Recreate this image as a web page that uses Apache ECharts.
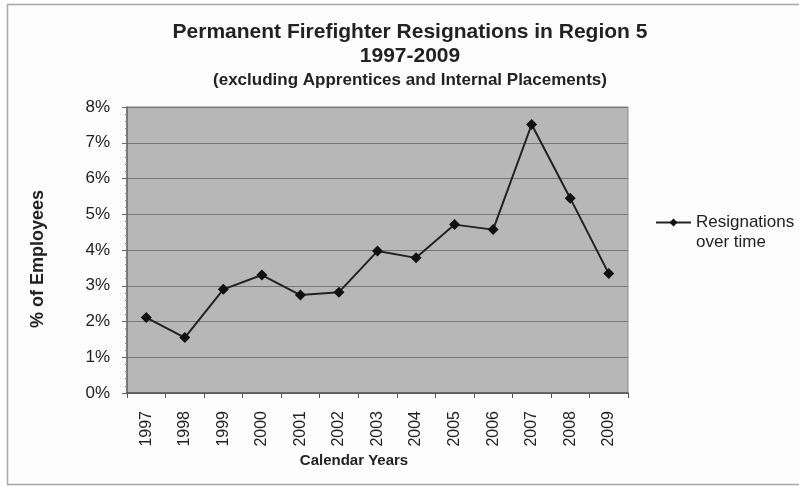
<!DOCTYPE html>
<html>
<head>
<meta charset="utf-8">
<script src="https://cdn.jsdelivr.net/npm/echarts@6/dist/echarts.min.js"></script>
<style>
  html, body { margin: 0; padding: 0; background: #fdfdfd; }
  #chart { width: 799px; height: 487px; }
</style>
</head>
<body>
<div id="chart"></div>
<script>
var years = ['1997', '1998', '1999', '2000', '2001', '2002', '2003', '2004', '2005', '2006', '2007', '2008', '2009'];
var resignations = [2.11, 1.55, 2.90, 3.30, 2.74, 2.82, 3.97, 3.78, 4.71, 4.57, 7.51, 5.45, 3.34];
var yTicks = [0, 1, 2, 3, 4, 5, 6, 7, 8];

var myChart = echarts.init(document.getElementById('chart'));
var font = 'Liberation Sans, Arial, sans-serif';

var option = {
    backgroundColor: '#fdfdfd',
    textStyle: { fontFamily: font },
    title: {
        text: 'Permanent Firefighter Resignations in Region 5\n1997-2009',
        subtext: '(excluding Apprentices and Internal Placements)',
        left: 410,
        textAlign: 'center',
        top: 20,
        padding: 0,
        itemGap: 3,
        textStyle: { fontSize: 21, fontWeight: 'bold', color: '#222', lineHeight: 24, fontFamily: font },
        subtextStyle: { fontSize: 17, fontWeight: 'bold', color: '#222', lineHeight: 18, fontFamily: font }
    },
    legend: {
        left: 650,
        top: 189,
        itemWidth: 35,
        itemHeight: 10,
        data: ['Resignations\nover time'],
        // empty first line pushes the text so its first line sits on the icon
        formatter: function (name) {
            return '{gap| }\n' + name.split('\n').map(function (s) { return '{t|' + s + '}'; }).join('\n');
        },
        textStyle: {
            fontSize: 17, color: '#222', fontFamily: font,
            rich: {
                gap: { fontSize: 17, lineHeight: 20 },
                t: { fontSize: 17, lineHeight: 20, color: '#222', fontFamily: font }
            }
        }
    },
    grid: {
        left: 127,
        top: 107,
        width: 501,
        height: 286,
        show: true,
        backgroundColor: '#b7b7b7',
        borderColor: '#8a8a8a',
        borderWidth: 1
    },
    xAxis: {
        type: 'category',
        data: years,
        boundaryGap: true,
        axisLine: { lineStyle: { color: '#555', width: 1.5 } },
        axisTick: { show: true, length: 5, lineStyle: { color: '#555' } },
        axisLabel: { rotate: 90, fontSize: 16, color: '#222', margin: 18, fontFamily: font }
    },
    yAxis: {
        type: 'value',
        min: yTicks[0],
        max: yTicks[yTicks.length - 1],
        interval: 1,
        axisLine: { show: true, lineStyle: { color: '#666', width: 1.5 } },
        axisTick: { show: true, length: 5, lineStyle: { color: '#666' } },
        minorTick: { show: true, splitNumber: 5, length: 2, lineStyle: { color: '#888' } },
        axisLabel: { formatter: '{value}%', fontSize: 17, color: '#222', margin: 17, fontFamily: font },
        splitLine: { show: true, lineStyle: { color: '#767676', width: 1.2 } }
    },
    graphic: [
        {
            type: 'rect',
            shape: { x: 7.5, y: 4.5, width: 800, height: 480 },
            style: { fill: 'none', stroke: '#a8a8a8', lineWidth: 1.5 },
            silent: true
        },
        {
            type: 'text',
            x: 38,
            y: 259,
            rotation: Math.PI / 2,
            style: {
                text: '% of Employees',
                font: 'bold 18px ' + font,
                fill: '#222',
                textAlign: 'center',
                textVerticalAlign: 'middle'
            }
        },
        {
            type: 'text',
            x: 354,
            y: 461,
            style: {
                text: 'Calendar Years',
                font: 'bold 15px ' + font,
                fill: '#222',
                textAlign: 'center',
                textVerticalAlign: 'middle'
            }
        }
    ],
    series: [
        {
            name: 'Resignations\nover time',
            type: 'line',
            data: resignations,
            symbol: 'diamond',
            symbolSize: 11,
            lineStyle: { color: '#222', width: 2 },
            itemStyle: { color: '#111' }
        }
    ]
};

myChart.setOption(option);
</script>
</body>
</html>
